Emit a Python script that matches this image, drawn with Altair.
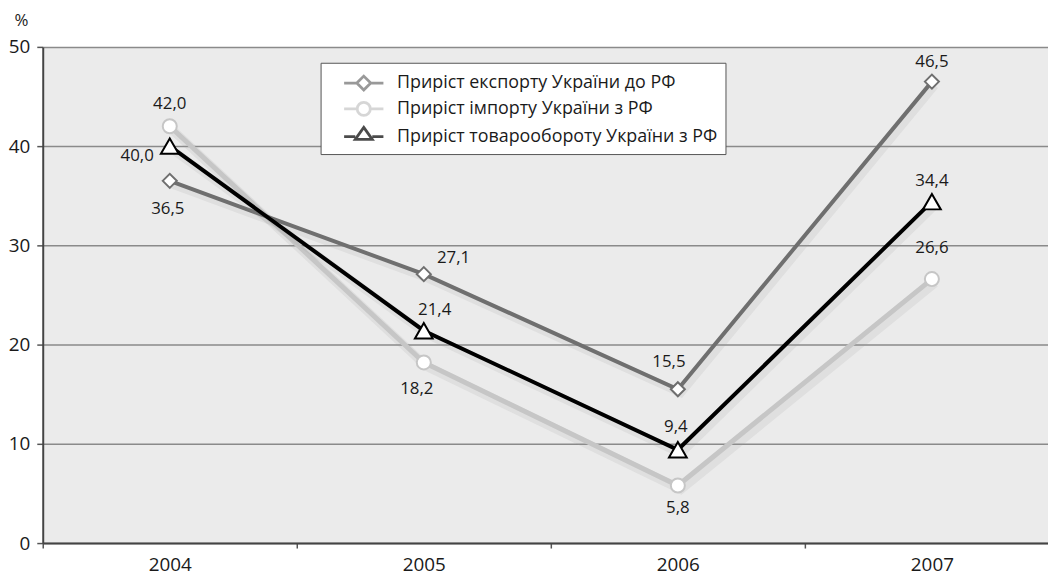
import altair as alt
import pandas as pd

years = [2004, 2005, 2006, 2007]
series = [
    "Приріст експорту України до РФ",
    "Приріст імпорту України з РФ",
    "Приріст товарообороту України з РФ",
]
export_vals = [36.5, 27.1, 15.5, 46.5]
import_vals = [42.0, 18.2, 5.8, 26.6]
turnover_vals = [40.0, 21.4, 9.4, 34.4]
y_ticks = [0, 10, 20, 30, 40, 50]

values_by_series = [export_vals, import_vals, turnover_vals]
rows = []
for s, vals in zip(series, values_by_series):
    for y, v in zip(years, vals):
        rows.append({"series": s, "year": y, "value": v})
df = pd.DataFrame(rows)

# styles
colors = ["#6f6f6f", "#c6c6c6", "#000000"]
line_widths = [4, 5, 4]
shapes = ["diamond", "circle", "triangle-up"]
marker_sizes = [200, 200, 320]
legend_paths = [
    "M-1.8,0L-0.64,0M0.64,0L1.8,0M0,-0.64L0.64,0L0,0.64L-0.64,0Z",
    "M-1.8,0L-0.6,0M0.6,0L1.8,0M0.6,0A0.6,0.6 0 1,1 -0.6,0A0.6,0.6 0 1,1 0.6,0Z",
    "M-1.8,0L-0.78,0M0.78,0L1.8,0M0,-0.85L0.78,0.25L-0.78,0.25Z",
]
# label placement (dx, dy, align) per series index and year index
label_place = {
    (0, 0): (-2, 28, "center"), (0, 1): (30, -16, "center"),
    (0, 2): (-9, -27, "center"), (0, 3): (0, -20, "center"),
    (1, 0): (0, -22, "center"), (1, 1): (-7, 27, "center"),
    (1, 2): (0, 23, "center"), (1, 3): (0, -31, "center"),
    (2, 0): (-16, 10, "right"), (2, 1): (11, -21, "center"),
    (2, 2): (-2, -23, "center"), (2, 3): (0, -21, "center"),
}

FONT = "Open Sans"
TXT = "#1a1a1a"
x_scale = alt.Scale(domain=[2003.5, 2003.5 + 1013 / 256], nice=False, zero=False)
y_scale = alt.Scale(domain=[0, 50], nice=False)

x_axis = alt.Axis(
    values=[2003.5, 2004, 2004.5, 2005, 2005.5, 2006, 2006.5, 2007, 2007.5],
    labelExpr="datum.value % 1 == 0 ? datum.value : ''",
    tickOpacity=alt.expr("datum.value % 1 == 0 ? 0 : 1"),
    grid=False, title=None, domainColor="#444", domainWidth=2,
    tickColor="#555", tickWidth=1.5, tickSize=5, labelPadding=8,
    labelFontSize=19, labelColor=TXT, labelFont=FONT,
)
y_axis = alt.Axis(
    values=y_ticks, grid=True, gridColor="#8a8a8a", gridWidth=1.5,
    domainColor="#444", domainWidth=2, tickColor="#555", tickSize=6,
    tickWidth=1.5, labelPadding=7, labelFontSize=19, labelColor=TXT,
    labelFont=FONT, title="%", titleAngle=0, titleAlign="center",
    titleBaseline="middle", titleX=-22, titleY=-27, titleFontSize=17,
    titleFontWeight="normal", titleColor="#222", titleFont=FONT,
)

base = alt.Chart(df)
layers = []

# axes holder
layers.append(
    base.mark_line(opacity=0).encode(
        x=alt.X("year:Q", scale=x_scale, axis=x_axis),
        y=alt.Y("value:Q", scale=y_scale, axis=y_axis),
    )
)

draw_order = [1, 0, 2]
for i in draw_order:
    s = series[i]
    sub = base.transform_filter(alt.datum.series == s)
    enc = dict(x=alt.X("year:Q", scale=x_scale), y=alt.Y("value:Q", scale=y_scale))
    layers.append(
        sub.mark_line(color="#9a9a9a", strokeWidth=line_widths[i] + 4, opacity=0.15,
                      xOffset=3, yOffset=4).encode(**enc)
    )
    layers.append(
        sub.mark_line(color=colors[i], strokeWidth=line_widths[i]).encode(**enc)
    )
for i in draw_order:
    s = series[i]
    sub = base.transform_filter(alt.datum.series == s)
    enc = dict(x=alt.X("year:Q", scale=x_scale), y=alt.Y("value:Q", scale=y_scale))
    layers.append(
        sub.mark_point(shape=shapes[i], filled=True, fill="white", stroke=colors[i],
                       strokeWidth=2, size=marker_sizes[i], opacity=1).encode(**enc)
    )

for i, s in enumerate(series):
    for j, yr in enumerate(years):
        dx, dy, align = label_place[(i, j)]
        layers.append(
            base.transform_filter((alt.datum.series == s) & (alt.datum.year == yr))
            .transform_calculate(lbl="replace(format(datum.value, '.1f'), '.', ',')")
            .mark_text(dx=dx, dy=dy, align=align, baseline="middle", fontSize=17,
                       font=FONT, color=TXT)
            .encode(x=alt.X("year:Q", scale=x_scale), y=alt.Y("value:Q", scale=y_scale),
                    text="lbl:N")
        )

# legend-only layer
legend_layer = base.transform_filter("false").mark_point(
    filled=True, fill="white", strokeWidth=2.5
).encode(
    x=alt.X("year:Q", scale=x_scale),
    y=alt.Y("value:Q", scale=y_scale),
    stroke=alt.Stroke("series:N", scale=alt.Scale(domain=series, range=colors),
                      legend=alt.Legend(title=None)),
    shape=alt.Shape("series:N", scale=alt.Scale(domain=series, range=legend_paths),
                    legend=alt.Legend(title=None)),
)
layers.append(legend_layer)

chart = alt.layer(*layers).properties(
    width=1013, height=500,
    autosize=alt.AutoSizeParams(type="none"),
    padding={"left": 35, "top": 37, "right": 0, "bottom": 31},
).configure_view(
    fill="#ebebeb", strokeWidth=0,
).configure_legend(
    orient="none", legendX=280, legendY=16, fillColor="white",
    strokeColor="#555", padding=8, rowPadding=0, symbolSize=484,
    symbolStrokeWidth=2.8, symbolFillColor="white", symbolOffset=23,
    labelOffset=21, labelFontSize=18, labelFont=FONT, labelColor=TXT,
    labelLimit=500,
)

chart.save("out.html", embed_options={"renderer": "svg", "actions": False})
